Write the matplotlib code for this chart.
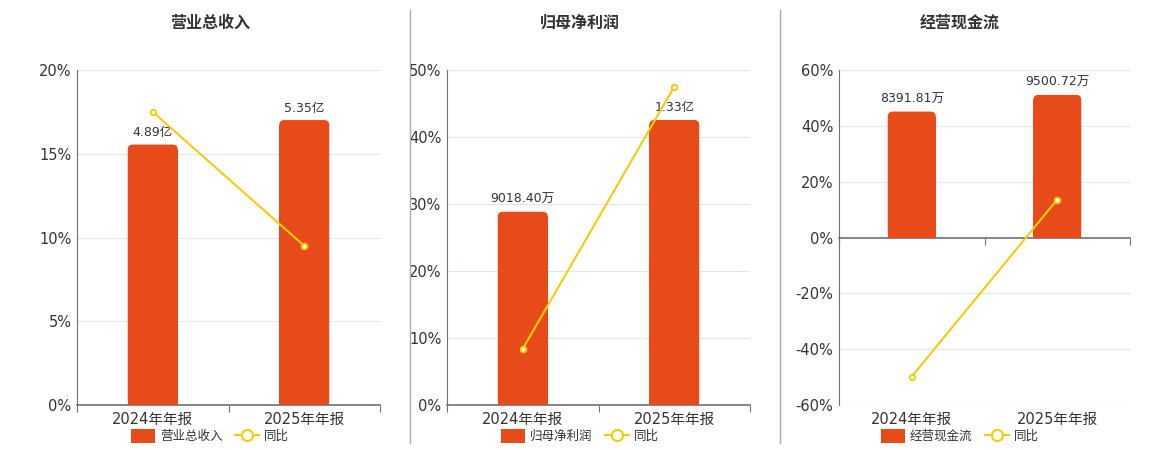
import matplotlib
matplotlib.use("Agg")
import matplotlib.pyplot as plt
from matplotlib.patches import Patch, FancyBboxPatch
from matplotlib.lines import Line2D
from matplotlib.ticker import FuncFormatter

plt.rcParams['font.family'] = ['DejaVu Sans', 'Noto Sans CJK SC']

# data
periods = ["2024年年报", "2025年年报"]

titles = ["营业总收入", "归母净利润", "经营现金流"]
bar_values = [[4.89, 5.35], [9018.40, 13300.0], [8391.81, 9500.72]]  # 亿, 万, 万
bar_labels = [["4.89亿", "5.35亿"], ["9018.40万", "1.33亿"], ["8391.81万", "9500.72万"]]
yoy_values = [[17.5, 9.5], [8.4, 47.5], [-49.8, 13.6]]  # %

pct_ticks = [[0, 5, 10, 15, 20], [0, 10, 20, 30, 40, 50], [-60, -40, -20, 0, 20, 40, 60]]
bar_ylims = [(0, 6.29), (0, 15633), (-11162, 11162)]

BAR_COLOR = "#E84B1A"
LINE_COLOR = "#F3CD0C"
TEXT_COLOR = "#333333"
GRID_COLOR = "#E0E6F1"
AXIS_COLOR = "#6E7079"

W, H = 1160, 450
fig = plt.figure(figsize=(W / 100, H / 100), dpi=100)

# axes boxes in pixels: left, right, top, bottom
boxes = [(77, 380, 70, 405), (447, 750, 70, 405), (839, 1130, 70, 405)]
title_x = [210, 580, 960]
legend_x = [210, 580, 960]


def rounded_bars(axb, bars, r_px=5):
    fig.canvas.draw()
    bb = axb.get_window_extent()
    x0, x1 = axb.get_xlim()
    y0, y1 = axb.get_ylim()
    xpp = (x1 - x0) / bb.width
    ypp = (y1 - y0) / bb.height
    rx = r_px * xpp
    ry = r_px * ypp
    for b in bars:
        x, y, w, h = b.get_x(), b.get_y(), b.get_width(), b.get_height()
        b.set_height(h - ry)
        p = FancyBboxPatch((x, y), w, h,
                           boxstyle=f"round,pad=0,rounding_size={rx}",
                           mutation_aspect=ypp / xpp,
                           facecolor=BAR_COLOR, edgecolor="none", zorder=2)
        axb.add_patch(p)


for i in range(3):
    l, r, t, b = boxes[i]
    rect = [l / W, 1 - b / H, (r - l) / W, (b - t) / H]
    ax = fig.add_axes(rect)
    x = list(range(len(periods)))

    # percent axis (grid, ticks)
    ax.set_xlim(-0.5, 1.5)
    ax.set_ylim(pct_ticks[i][0], pct_ticks[i][-1])
    ax.set_yticks(pct_ticks[i])
    ax.yaxis.set_major_formatter(FuncFormatter(lambda v, p: f"{v:.0f}%"))
    ax.tick_params(axis='y', length=0, labelsize=10.5, labelcolor=TEXT_COLOR, pad=4)
    for v in pct_ticks[i]:
        if v != 0 and not (i < 2 and v == pct_ticks[i][0]):
            ax.axhline(v, color=GRID_COLOR, lw=0.8, zorder=0)
    for s in ['top', 'right']:
        ax.spines[s].set_visible(False)
    ax.spines['left'].set_color(AXIS_COLOR)
    ax.spines['left'].set_linewidth(0.8)
    ax.spines['bottom'].set_color(AXIS_COLOR)
    ax.spines['bottom'].set_linewidth(1.2)

    ax.set_xticks(x)
    ax.set_xticks([-0.5, 0.5, 1.5], minor=True)
    ax.tick_params(axis='x', which='minor', length=5, color=AXIS_COLOR, width=0.8)
    if i == 2:
        ax.spines['bottom'].set_position(('data', 0))
        ax.tick_params(axis='x', which='major', length=0, labelbottom=False)
        sec = ax.secondary_xaxis('bottom')
        sec.set_xticks(x)
        sec.set_xticklabels(periods)
        sec.tick_params(length=0, labelsize=10.5, labelcolor=TEXT_COLOR, pad=5)
        sec.spines['bottom'].set_visible(False)
        ax.axhline(-60, color=GRID_COLOR, lw=0.8, zorder=0)
    else:
        ax.set_xticklabels(periods)
        ax.tick_params(axis='x', which='major', length=0, labelsize=10.5,
                       labelcolor=TEXT_COLOR, pad=5)

    # bar axis (hidden)
    axb = ax.twinx()
    axb.set_ylim(*bar_ylims[i])
    axb.axis('off')
    bars = axb.bar(x, bar_values[i], width=0.33, color=BAR_COLOR, zorder=2)
    for xi, v, lab in zip(x, bar_values[i], bar_labels[i]):
        axb.annotate(lab, (xi, v), xytext=(0, 4), textcoords='offset points',
                     ha='center', va='bottom', fontsize=9, color=TEXT_COLOR)
    rounded_bars(axb, bars)

    # yoy line axis (same scale as percent axis)
    axl = ax.twinx()
    axl.set_ylim(ax.get_ylim())
    axl.axis('off')
    axl.plot(x, yoy_values[i], color=LINE_COLOR, lw=1.5, marker='o', markersize=4,
             markerfacecolor='white', markeredgecolor=LINE_COLOR, markeredgewidth=1.4)

    fig.text(title_x[i] / W, 1 - 23 / H, titles[i], ha='center', va='center',
             fontsize=11.5, fontweight='bold', color=TEXT_COLOR)

    handles = [Patch(facecolor=BAR_COLOR, edgecolor='none', label=titles[i]),
               Line2D([], [], color=LINE_COLOR, lw=1.5, marker='o', markersize=8,
                      markerfacecolor='white', markeredgewidth=1.5, label="同比")]
    leg = fig.legend(handles=handles, loc='center', bbox_to_anchor=(legend_x[i] / W, 1 - 436 / H),
                     ncol=2, frameon=False, fontsize=9, handlelength=1.9, handleheight=1.3,
                     handletextpad=0.4, columnspacing=1.0, borderpad=0)
    for txt in leg.get_texts():
        txt.set_color(TEXT_COLOR)

# panel separators
for sx in [410, 780]:
    fig.add_artist(Line2D([sx / W, sx / W], [1 - 443 / H, 1 - 10 / H],
                          transform=fig.transFigure, color="#AAAAAA", lw=1))

fig.savefig("out.png", dpi=100)
